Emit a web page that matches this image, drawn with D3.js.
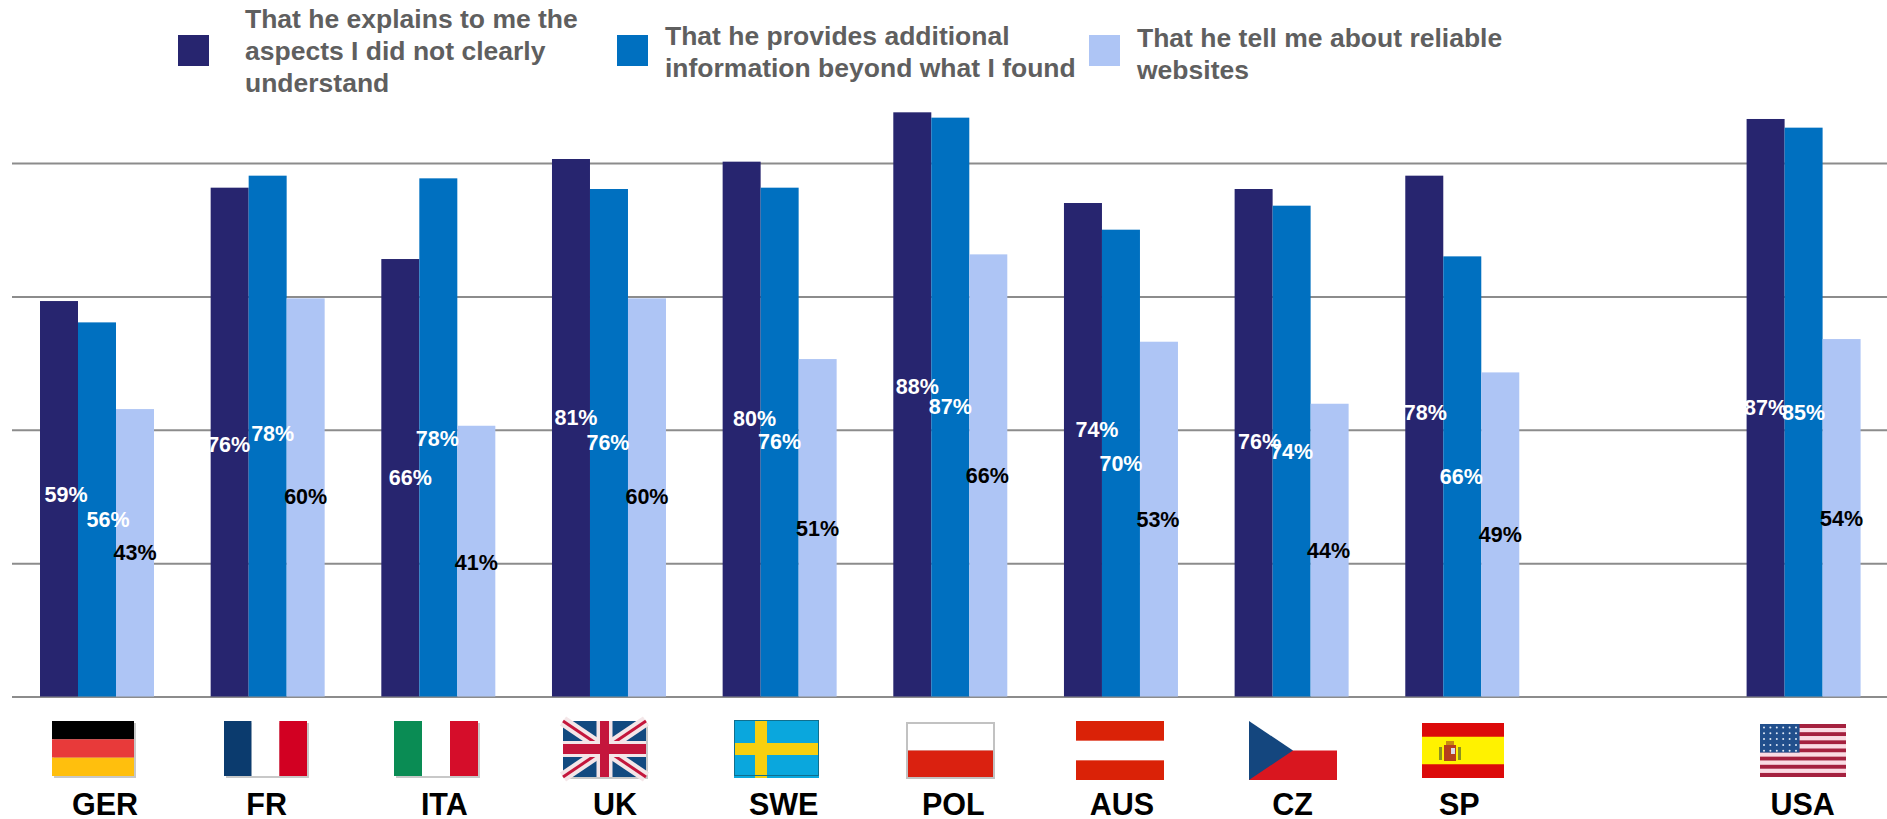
<!DOCTYPE html>
<html lang="en">

<head>
    <meta charset="UTF-8">
    <title>Expectations by country</title>
    <script src="https://d3js.org/d3.v7.min.js"></script>
    <style>
        html, body { margin: 0; padding: 0; background: #fff; overflow: hidden; }
        svg { display: block; }
        text { font-family: "Liberation Sans", Arial, sans-serif; font-weight: bold; }
        .grid line { stroke: #8c8c8c; stroke-width: 2px; }
        .grid path { display: none; }
        .legend text { fill: #5f5f5f; font-size: 26.5px; }
        .value { font-size: 21.5px; text-anchor: middle; dominant-baseline: central; }
        .country { font-size: 30.5px; text-anchor: middle; fill: #000; }
    </style>
</head>

<body>
    <svg id="chart" width="1887" height="819"></svg>
    <script>
// The empty category keeps the gap between SP and USA
const countries = ["GER", "FR", "ITA", "UK", "SWE", "POL", "AUS", "CZ", "SP", "", "USA"];
// bar heights, the printed labels are these rounded
const explains = [59.3, 76.3, 65.6, 80.6, 80.2, 87.6, 74, 76.1, 78.1, null, 86.6];
const additional = [56.1, 78.1, 77.7, 76.1, 76.3, 86.8, 70, 73.6, 66, null, 85.3];
const websites = [43.1, 59.7, 40.6, 59.7, 50.6, 66.3, 53.2, 43.9, 48.6, null, 53.6];
const seriesNames = [
    ["That he explains to me the", "aspects I did not clearly", "understand"],
    ["That he provides additional", "information beyond what I found"],
    ["That he tell me about reliable", "websites"]
];
const gridTicks = [0, 20, 40, 60, 80];

const colors = ["#27256f", "#0070c0", "#aec5f5"];
const labelColors = ["#fff", "#fff", "#000"];
const width = 1887;
const height = 819;

const svg = d3.select("#chart");

const x = d3.scaleBand().domain(countries).range([40, 1860.6]).paddingInner(0.332).paddingOuter(0);
const xSeries = d3.scaleBand().domain([0, 1, 2]).range([0, x.bandwidth()]);
const y = d3.scaleLinear().domain([0, 80]).range([696.5, 163]);
const pct = d3.format(".0f");

// gridlines
svg.append("g")
    .attr("class", "grid")
    .attr("transform", "translate(12,0)")
    .call(d3.axisLeft(y).tickValues(gridTicks).tickSize(-(width - 12)).tickFormat(""));

// labels were hand placed in the original, these are the px offsets from bar centre
const nudgeX = [
    [7, 11, 0], [-1, 5, 0], [10, -1, 0], [5, -1, 0], [13, 0, 0], [5, 0, -1], [14, 0, -1], [6, 0, -1], [1, -1, 0], [0, 0, 0], [0, 0, 0]
];
const nudgeY = [
    [-4, 11, 0], [3, -2, 0], [0, 2, 2], [-10, 0, 0], [-10, 0, 1], [-17, 0, 1], [-20, 1, 1], [-1, 1, 1], [-23, 1, 1], [0, 0, 0], [0, 1, 1]
];

const series = [explains, additional, websites];

series.forEach((values, s) => {
    svg.append("g").selectAll("rect")
        .data(countries.map((c, i) => ({ c, v: values[i] })).filter(d => d.v !== null))
        .enter().append("rect")
        .attr("x", d => x(d.c) + xSeries(s))
        .attr("y", d => y(d.v))
        .attr("width", xSeries.bandwidth())
        .attr("height", d => y(0) - y(d.v))
        .attr("fill", colors[s]);
});

series.forEach((values, s) => {
    svg.append("g").selectAll("text")
        .data(countries.map((c, i) => ({ c, i, v: values[i] })).filter(d => d.v !== null))
        .enter().append("text")
        .attr("class", "value")
        .attr("x", d => x(d.c) + xSeries(s) + xSeries.bandwidth() / 2 + nudgeX[d.i][s])
        .attr("y", d => (y(d.v) + y(0)) / 2 + nudgeY[d.i][s])
        .attr("fill", labelColors[s])
        .text(d => pct(d.v) + "%");
});

// legend
const legendItems = [
    { swatch: 178, text: 245, first: 28 },
    { swatch: 617, text: 665, first: 45 },
    { swatch: 1089, text: 1137, first: 47 }
];
const legend = svg.append("g").attr("class", "legend");
legendItems.forEach((item, i) => {
    legend.append("rect")
        .attr("x", item.swatch).attr("y", 35)
        .attr("width", 31).attr("height", 31)
        .attr("fill", colors[i]);
    legend.selectAll(null)
        .data(seriesNames[i])
        .enter().append("text")
        .attr("x", item.text)
        .attr("y", (d, j) => item.first + j * 32)
        .text(d => d);
});

// country names
const nameOffset = { GER: 8, FR: -1, ITA: 6, UK: 6, SWE: 4, POL: 3, AUS: 1, CZ: 1, SP: -3, USA: -1 };
svg.append("g").selectAll("text")
    .data(countries.filter(c => c))
    .enter().append("text")
    .attr("class", "country")
    .attr("x", c => x(c) + x.bandwidth() / 2 + nameOffset[c])
    .attr("y", 815)
    .text(c => c);

// flags
function band(g, x0, y0, w, h, fill) {
    g.append("rect").attr("x", x0).attr("y", y0).attr("width", w).attr("height", h).attr("fill", fill);
}
function poly(g, pts, fill) {
    g.append("polygon").attr("points", pts.map(p => p.join(",")).join(" ")).attr("fill", fill);
}
function shadow(g, w, h) {
    g.append("rect").attr("x", 2).attr("y", 2).attr("width", w).attr("height", h).attr("fill", "#c8c8c8");
}

const flags = {
    GER(g, w, h) {
        shadow(g, w, h);
        band(g, 0, 0, w, h / 3, "#000");
        band(g, 0, h / 3, w, h / 3, "#e83a3a");
        band(g, 0, 2 * h / 3, w, h / 3, "#ffbf0d");
    },
    FR(g, w, h) {
        shadow(g, w, h);
        band(g, 0, 0, w / 3, h, "#0b3b6e");
        band(g, w / 3, 0, w / 3, h, "#fff");
        band(g, 2 * w / 3, 0, w / 3, h, "#d20022");
    },
    ITA(g, w, h) {
        shadow(g, w, h);
        band(g, 0, 0, w / 3, h, "#0a8c54");
        band(g, w / 3, 0, w / 3, h, "#fff");
        band(g, 2 * w / 3, 0, w / 3, h, "#d50d2a");
    },
    UK(g, w, h) {
        shadow(g, w, h);
        band(g, 0, 0, w, h, "#124a80");
        const diag = (x1, y1, x2, y2, color, sw) => g.append("line")
            .attr("x1", x1).attr("y1", y1).attr("x2", x2).attr("y2", y2)
            .attr("stroke", color).attr("stroke-width", sw);
        diag(0, 0, w, h, "#f4e6e8", 11);
        diag(w, 0, 0, h, "#f4e6e8", 11);
        diag(0, 0, w, h, "#c4163c", 3);
        diag(w, 0, 0, h, "#c4163c", 3);
        band(g, w / 2 - 8, 0, 16, h, "#f4e6e8");
        band(g, 0, h / 2 - 8, w, 16, "#f4e6e8");
        band(g, w / 2 - 4.5, 0, 9, h, "#c4163c");
        band(g, 0, h / 2 - 5, w, 10, "#c4163c");
    },
    SWE(g, w, h) {
        band(g, 0, 0, w, h, "#0aa7dd");
        band(g, 21, 0, 12, h, "#f7cf0e");
        band(g, 0, h / 2 - 6, w, 12, "#f7cf0e");
        g.append("rect").attr("x", 0.5).attr("y", 0.5).attr("width", w - 1).attr("height", h - 3)
            .attr("fill", "none").attr("stroke", "#0f6f8e");
    },
    POL(g, w, h) {
        band(g, 0, 0, w, h, "#c2c2c2");
        band(g, 2, 2, w - 4, h / 2 - 2, "#fff");
        band(g, 2, h / 2, w - 4, h / 2 - 2, "#da2110");
    },
    AUS(g, w, h) {
        band(g, 0, 0, w, h / 3, "#da2207");
        band(g, 0, 2 * h / 3, w, h / 3, "#da2207");
    },
    CZ(g, w, h) {
        band(g, 0, h / 2, w, h / 2, "#d9161f");
        poly(g, [[0, 0], [w / 2, h / 2], [0, h]], "#14467e");
    },
    SP(g, w, h) {
        band(g, 0, 0, w, h, "#dc0a0a");
        band(g, 0, h / 4, w, h / 2, "#fff200");
        band(g, 22, 22, 12, 16, "#b5401c");
        band(g, 24, 18, 8, 4, "#c98a10");
        band(g, 29, 25, 4, 6, "#d8d8e8");
        band(g, 17, 24, 3, 13, "#8c8f20");
        band(g, 36, 24, 3, 13, "#8c8f20");
    },
    USA(g, w, h) {
        d3.range(13).forEach(i => band(g, 0, i * h / 13, w, h / 13, i % 2 ? "#fbdbe3" : "#a5213f"));
        band(g, 0, 0, w * 0.46, h * 7 / 13, "#214f8c");
        d3.range(5).forEach(r => d3.range(6).forEach(c => {
            g.append("circle").attr("cx", 4 + c * 6.4).attr("cy", 3.5 + r * 5.8).attr("r", 1).attr("fill", "#dfe8f5");
        }));
    }
};

const flagBoxes = {
    GER: [52, 721, 82, 55], FR: [224, 721, 83, 55], ITA: [394, 721, 84, 55], UK: [563, 721, 83, 56],
    SWE: [734, 720, 85, 58], POL: [906, 722, 89, 57], AUS: [1076, 721, 88, 59], CZ: [1249, 721, 88, 59],
    SP: [1422, 723, 82, 55], USA: [1760, 724, 86, 53]
};
Object.keys(flagBoxes).forEach(c => {
    const [fx, fy, fw, fh] = flagBoxes[c];
    const g = svg.append("g").attr("transform", `translate(${fx},${fy})`);
    flags[c](g, fw, fh);
});
    </script>
</body>

</html>
